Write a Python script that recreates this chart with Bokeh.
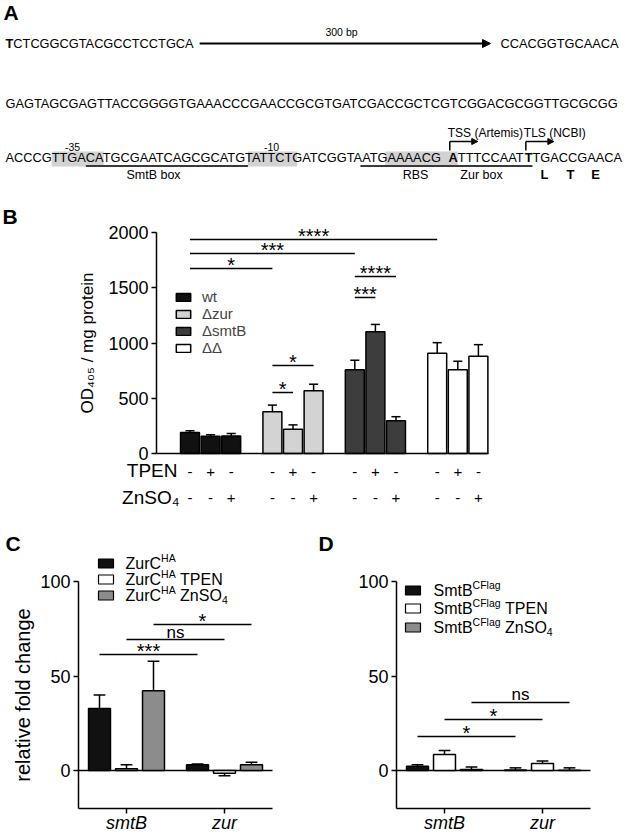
from bokeh.plotting import figure
from bokeh.models import (Range1d, FixedTicker, Legend, LegendItem, Arrow, NormalHead,
                          ColumnDataSource)
from bokeh.layouts import column, row
from bokeh.core.properties import value
from bokeh.embed import file_html
from bokeh.resources import INLINE

FONT = "Liberation Sans"
FV = value(FONT)

# ======================= DATA =======================
# Panel A: promoter region
row1_left = "TCTCGGCGTACGCCTCCTGCA"
row1_right = "CCACGGTGCAACA"
row1_gap = "300 bp"
row2 = "GAGTAGCGAGTTACCGGGGTGAAACCCGAACCGCGTGATCGACCGCTCGTCGGACGCGGTTGCGCGG"
row3 = "ACCCGTTGACATGCGAATCAGCGCATGTATTCTGATCGGTAATGAAAACGATTTCCAATTTGACCGAACA"
row3_bold = [50, 59]
row3_shaded = [(5, 10), (27, 32), (43, 50)]
row3_underlined = [(9, 26), (40, 59)]
motif_labels = ["-35", "-10"]
box_labels = ["SmtB box", "RBS", "Zur box"]
start_labels = ["TSS (Artemis)", "TLS (NCBI)"]
codons = ["L", "T", "E"]

# Panel B: OD405 / mg protein
strains = ["wt", "\u0394zur", "\u0394smtB", "\u0394\u0394"]
tpen = ["-", "+", "-"]
znso4 = ["-", "-", "+"]
od_wt = [190, 155, 158]
od_wt_err = [15, 15, 22]
od_dzur = [378, 219, 567]
od_dzur_err = [60, 40, 60]
od_dsmtb = [757, 1102, 297]
od_dsmtb_err = [87, 66, 36]
od_dd = [907, 757, 880]
od_dd_err = [96, 78, 105]
# (bar index a, bar index b, height, label)
sig_b = [(0, 9, 1937, "****"), (0, 6, 1810, "***"), (0, 3, 1674, "*"),
         (3, 5, 796, "*"), (3, 4, 552, "*"), (6, 8, 1602, "****"), (6, 7, 1412, "***")]

# Panel C: relative fold change, ZurC-HA
genes = ["smtB", "zur"]
zurc = [32.8, 3.0]
zurc_err = [7.1, 0.5]
zurc_tpen = [0.9, -1.4]
zurc_tpen_err = [2.1, 1.4]
zurc_zn = [42.2, 3.0]
zurc_zn_err = [15.6, 1.3]
sig_c = [(0, 0, 61.4, "***"), (1, 1, 69.3, "ns"), (2, 2, 77.2, "*")]
legend_c = [[("ZurC", "b"), ("HA", "p")],
            [("ZurC", "b"), ("HA", "p"), ("TPEN", "b")],
            [("ZurC", "b"), ("HA", "p"), ("ZnSO", "b"), ("4", "s")]]

# Panel D: relative fold change, SmtB-CFlag
smtbc = [2.3, 0.2]
smtbc_err = [0.7, 1.2]
smtbc_tpen = [8.5, 3.7]
smtbc_tpen_err = [2.1, 1.3]
smtbc_zn = [0.5, 0.1]
smtbc_zn_err = [1.3, 1.3]
sig_d = [(0, 0, 18.0, "*"), (1, 1, 27.0, "*"), (2, 2, 36.0, "ns")]
legend_d = [[("SmtB", "b"), ("CFlag", "p")],
            [("SmtB", "b"), ("CFlag", "p"), ("TPEN", "b")],
            [("SmtB", "b"), ("CFlag", "p"), ("ZnSO", "b"), ("4", "s")]]

# ======================= HELPERS =======================
WR = {' ': 278, 'A': 667, 'B': 667, 'C': 722, 'D': 722, 'E': 667, 'F': 611, 'G': 778,
      'H': 722, 'L': 556, 'N': 722, 'O': 778, 'P': 667, 'R': 722, 'S': 667, 'T': 611,
      'Z': 611, 'a': 556, 'b': 556, 'c': 500, 'e': 556, 'g': 556, 'i': 222, 'l': 222,
      'm': 833, 'n': 556, 'o': 556, 'p': 556, 'r': 333, 's': 500, 't': 278, 'u': 556,
      'x': 500, '-': 333, '(': 333, ')': 333}
WB = {'A': 722, 'T': 611, 'L': 611, 'E': 667}


def tw(s, size, bold=False):
    tab = WB if bold else WR
    return sum(tab.get(c, WR.get(c, 556)) for c in s) * size / 1000.0


def base_fig(**kw):
    return figure(output_backend="svg", toolbar_location=None, outline_line_color=None,
                  background_fill_color="white", border_fill_color="white",
                  min_border=0, title=None, **kw)


def style_axis(ax, size="18px"):
    ax.axis_line_width = 1.5
    ax.axis_line_color = "black"
    ax.major_tick_line_width = 1.5
    ax.major_tick_line_color = "black"
    ax.major_tick_out = 5
    ax.major_tick_in = 0
    ax.minor_tick_line_color = None
    ax.major_label_text_font = FONT
    ax.major_label_text_font_size = size
    ax.major_label_text_color = "black"
    ax.major_label_standoff = 3
    ax.axis_label_text_font = FONT
    ax.axis_label_text_font_style = "normal"
    ax.axis_label_text_color = "black"


def txt(p, xs, ys, texts, size, align="left", style="normal", baseline="middle"):
    p.text(x=xs, y=ys, text=texts, text_font=FV, text_font_size=size,
           text_font_style=style, text_align=align, text_baseline=baseline,
           text_color="black")


W = 625

# ======================= PANEL A =======================
SEQ = 12.8
X0 = 5.0
pA = base_fig(width=W, height=194, x_range=Range1d(0, W), y_range=Range1d(194, 0),
              x_axis_type=None, y_axis_type=None)

reg = dict(x=[], y=[], text=[])
bld = dict(x=[], y=[], text=[])


def put(d, x, y, t):
    d["x"].append(x)
    d["y"].append(y)
    d["text"].append(t)


# row 1
put(bld, X0, 43, row1_left[0])
xr1 = X0 + tw(row1_left[0], SEQ, True)
put(reg, xr1, 43, row1_left[1:])
x_arrow0 = xr1 + tw(row1_left[1:], SEQ) + 5
pA.add_layout(Arrow(end=NormalHead(size=8, fill_color="black", line_color="black"),
                    x_start=x_arrow0, y_start=43, x_end=490, y_end=43,
                    line_width=2, line_color="black"))
put(reg, 500, 43, row1_right)
# row 2
put(reg, X0, 103, row2)
# row 3 character positions
pos = []
cur = X0
for i, ch in enumerate(row3):
    pos.append(cur)
    cur += tw(ch, SEQ, i in row3_bold)
pos.append(cur)

pA.quad(left=[pos[a] for a, b in row3_shaded], right=[pos[b + 1] for a, b in row3_shaded],
        top=[151] * len(row3_shaded), bottom=[166] * len(row3_shaded),
        fill_color="#d2d2d2", line_color=None)

cuts = sorted(set([0, len(row3)] + row3_bold + [b + 1 for b in row3_bold]))
for a, b in zip(cuts[:-1], cuts[1:]):
    put(bld if a in row3_bold else reg, pos[a], 157, row3[a:b])

pA.segment(x0=[pos[a] for a, b in row3_underlined], x1=[pos[b + 1] for a, b in row3_underlined],
           y0=[165.5] * 2, y1=[165.5] * 2, line_color="#3a3a3a", line_width=2)

pA.text(x="x", y="y", text="text", source=ColumnDataSource(reg), text_font=FV,
        text_font_size=f"{SEQ}px", text_baseline="middle", text_align="left", text_color="black")
pA.text(x="x", y="y", text="text", source=ColumnDataSource(bld), text_font=FV,
        text_font_style="bold", text_font_size=f"{SEQ}px", text_baseline="middle",
        text_align="left", text_color="black")

txt(pA, [341], [31], [row1_gap], "10.5px", "center")
txt(pA, [72, 271], [146, 146], motif_labels, "10.5px", "center")
txt(pA, [153, 415, 481], [174] * 3, box_labels, "12.5px", "center")
txt(pA, [544, 570, 595], [174] * 3, codons, "13px", "center", "bold")
for idx, lab in zip(row3_bold, start_labels):
    xa = pos[idx] + 1.2
    pA.segment(x0=[xa], y0=[150], x1=[xa], y1=[141], line_color="black", line_width=1.5)
    pA.add_layout(Arrow(end=NormalHead(size=6, fill_color="black", line_color="black"),
                        x_start=xa, y_start=141, x_end=xa + 28, y_end=141,
                        line_width=1.5, line_color="black"))
    txt(pA, [xa - 2], [132], [lab], "12px")
txt(pA, [3], [12], ["A"], "21px", "left", "bold")

# ======================= PANEL B =======================
B_TOP, B_BOT = 194, 521
B_PX = 20.6           # px per bar slot
B_X1 = 189.5          # page x of first bar
B_Y0 = 453.0          # page y of value 0
B_SY = 221.0 / 2000   # px per unit


def bxp(px):
    return 1 + (px - B_X1) / B_PX


def byp(py):
    return (B_Y0 - py) / B_SY


pB = base_fig(width=W, height=B_BOT - B_TOP, x_range=Range1d(bxp(0), bxp(W)),
              y_range=Range1d(byp(B_BOT), byp(B_TOP)))
pB.grid.visible = False

groups = [(od_wt, od_wt_err), (od_dzur, od_dzur_err), (od_dsmtb, od_dsmtb_err), (od_dd, od_dd_err)]
colors_b = ["#111111", "#d3d3d3", "#3d3d3d", "#ffffff"]
xs_all = []
rends = []
for g, (vals, errs) in enumerate(groups):
    xs = [1 + 4 * g + b for b in range(3)]
    xs_all += xs
    ends = [v + e for v, e in zip(vals, errs)]
    pB.segment(x0=xs, y0=vals, x1=xs, y1=ends, line_color="black", line_width=1.5)
    pB.segment(x0=[x - 0.22 for x in xs], y0=ends, x1=[x + 0.22 for x in xs], y1=ends,
               line_color="black", line_width=1.5)
    r = pB.vbar(x=xs, top=vals, bottom=0, width=0.92, fill_color=colors_b[g],
                line_color="black", line_width=1.5)
    rends.append(r)

for a, b, yv, lab in sig_b:
    pB.segment(x0=[xs_all[a]], x1=[xs_all[b]], y0=[yv], y1=[yv], line_color="black",
               line_width=1.5)
    txt(pB, [(xs_all[a] + xs_all[b]) / 2], [yv + 3.5 / B_SY], [lab], "20px", "center")

yax = pB.yaxis[0]
style_axis(yax)
yax.fixed_location = bxp(156)
yax.bounds = (0, 2000)
yax.ticker = FixedTicker(ticks=[0, 500, 1000, 1500, 2000])
yax.axis_label = "OD\u2084\u2080\u2085 / mg protein"
yax.axis_label_text_font_size = "17px"
yax.axis_label_standoff = 8

xax = pB.xaxis[0]
style_axis(xax)
xax.fixed_location = 0
xax.bounds = (bxp(156), bxp(488))
xax.ticker = FixedTicker(ticks=[])
xax.major_tick_line_color = None
xax.major_label_text_font_size = "0px"

# treatment rows
txt(pB, xs_all, [byp(471)] * len(xs_all), [tpen[i % 3] for i in range(len(xs_all))],
    "15px", "center")
txt(pB, xs_all, [byp(497)] * len(xs_all), [znso4[i % 3] for i in range(len(xs_all))],
    "15px", "center")
txt(pB, [bxp(177)], [byp(470)], ["TPEN"], "19px", "right")
txt(pB, [bxp(179)], [byp(497)], ["ZnSO\u2084"], "19px", "right")
txt(pB, [bxp(2)], [byp(216)], ["B"], "21px", "left", "bold")

legB = Legend(items=[LegendItem(label=s, renderers=[r]) for s, r in zip(strains, rends)],
              location=(174, B_BOT - 356), label_text_font=FONT, label_text_font_size="15px",
              glyph_width=18, glyph_height=10, label_height=14, label_standoff=10,
              spacing=0, padding=0, margin=0, border_line_color=None,
              background_fill_alpha=0)
pB.add_layout(legB)

# ======================= PANELS C / D =======================
CD_TOP, CD_BOT = 521, 836
CD_SY = 1.89   # px per unit
CD_SX = 98.0   # px per gene slot


def expr_panel(page_left, fig_w, tick0_px, zero_px, vals, errs, colors, sig, ylabel,
               legend_rows, legend_y, sq_x, txt_x, letter):
    def xd(px):
        return (px - tick0_px) / CD_SX

    def yd(py):
        return (zero_px - py) / CD_SY

    p = base_fig(width=fig_w, height=CD_BOT - CD_TOP,
                 x_range=Range1d(xd(page_left), xd(page_left + fig_w)),
                 y_range=Range1d(yd(CD_BOT), yd(CD_TOP)))
    p.grid.visible = False
    x_left = xd(tick0_px - 48)
    x_right = xd(tick0_px + 98 + 48)
    offs = [-0.2755, 0.0, 0.2755]
    p.segment(x0=[x_left], x1=[x_right], y0=[0], y1=[0], line_color="black", line_width=1.5)
    bar_x = []
    for k in range(3):
        xs = [g + offs[k] for g in range(len(genes))]
        bar_x.append(xs)
        ends = [v + (e if v >= 0 else -e) for v, e in zip(vals[k], errs[k])]
        p.segment(x0=xs, y0=vals[k], x1=xs, y1=ends, line_color="black", line_width=1.5)
        p.segment(x0=[x - 0.06 for x in xs], y0=ends, x1=[x + 0.06 for x in xs], y1=ends,
                  line_color="black", line_width=1.5)
        p.vbar(x=xs, top=vals[k], bottom=0, width=0.224, fill_color=colors[k],
               line_color="black", line_width=1.5)
    for ka, kb, yv, lab in sig:
        x0, x1 = bar_x[ka][0], bar_x[kb][1]
        p.segment(x0=[x0], x1=[x1], y0=[yv], y1=[yv], line_color="black", line_width=1.5)
        if lab == "ns":
            txt(p, [(x0 + x1) / 2], [yv + 7.5 / CD_SY], [lab], "17px", "center")
        else:
            txt(p, [(x0 + x1) / 2], [yv + 3.5 / CD_SY], [lab], "20px", "center")

    ya = p.yaxis[0]
    style_axis(ya)
    ya.fixed_location = x_left
    ya.bounds = (-20, 100)
    ya.ticker = FixedTicker(ticks=[0, 50, 100])
    if ylabel:
        ya.axis_label = ylabel
        ya.axis_label_text_font_size = "20px"
        ya.axis_label_standoff = 3
    xa = p.xaxis[0]
    style_axis(xa)
    xa.fixed_location = -20
    xa.bounds = (x_left, x_right)
    xa.ticker = FixedTicker(ticks=list(range(len(genes))))
    xa.major_label_overrides = {i: g for i, g in enumerate(genes)}
    xa.major_label_text_font_style = "italic"
    xa.major_label_standoff = 0

    # legend: squares + rich labels
    p.quad(left=[xd(sq_x[0])] * 3, right=[xd(sq_x[1])] * 3,
           top=[yd(yy - 4.5) for yy in legend_y], bottom=[yd(yy + 4.5) for yy in legend_y],
           fill_color=colors, line_color="black", line_width=1.2)
    big = dict(x=[], y=[], text=[], xo=[], yo=[])
    small = dict(x=[], y=[], text=[], xo=[], yo=[])
    for pieces, yy in zip(legend_rows, legend_y):
        off = 0.0
        prev = None
        for t, kind in pieces:
            if kind == "b":
                if prev == "p":
                    off += tw(" ", 16)
                d, yo, sz = big, 0, 16
            elif kind == "p":
                d, yo, sz = small, -6, 10.5
            else:
                d, yo, sz = small, 4, 10.5
            d["x"].append(xd(txt_x))
            d["y"].append(yd(yy))
            d["text"].append(t)
            d["xo"].append(off)
            d["yo"].append(yo)
            off += tw(t, sz)
            prev = kind
    p.text(x="x", y="y", text="text", x_offset="xo", y_offset="yo",
           source=ColumnDataSource(big), text_font=FV, text_font_size="16px",
           text_align="left", text_baseline="middle", text_color="black")
    p.text(x="x", y="y", text="text", x_offset="xo", y_offset="yo",
           source=ColumnDataSource(small), text_font=FV, text_font_size="10.5px",
           text_align="left", text_baseline="middle", text_color="black")
    txt(p, [xd(page_left + 5)], [yd(543)], [letter], "21px", "left", "bold")
    return p


SHIFT = 4  # lift panels C/D slightly so the x tick labels fit the page
pC = expr_panel(0, 313, 126, 774 - SHIFT, [zurc, zurc_tpen, zurc_zn],
                [zurc_err, zurc_tpen_err, zurc_zn_err],
                ["#111111", "#ffffff", "#8c8c8c"], sig_c, "relative fold change",
                legend_c, [y - SHIFT for y in (567, 583, 599)], (98, 113), 125, "C")
pD = expr_panel(313, 312, 444, 772 - SHIFT + 2, [smtbc, smtbc_tpen, smtbc_zn],
                [smtbc_err, smtbc_tpen_err, smtbc_zn_err],
                ["#111111", "#ffffff", "#8c8c8c"], sig_d, None,
                legend_d, [y - SHIFT for y in (594, 612, 631)], (405, 420), 433, "D")

layout = column(pA, pB, row(pC, pD))
open("out.html", "w").write(file_html(layout, INLINE))
